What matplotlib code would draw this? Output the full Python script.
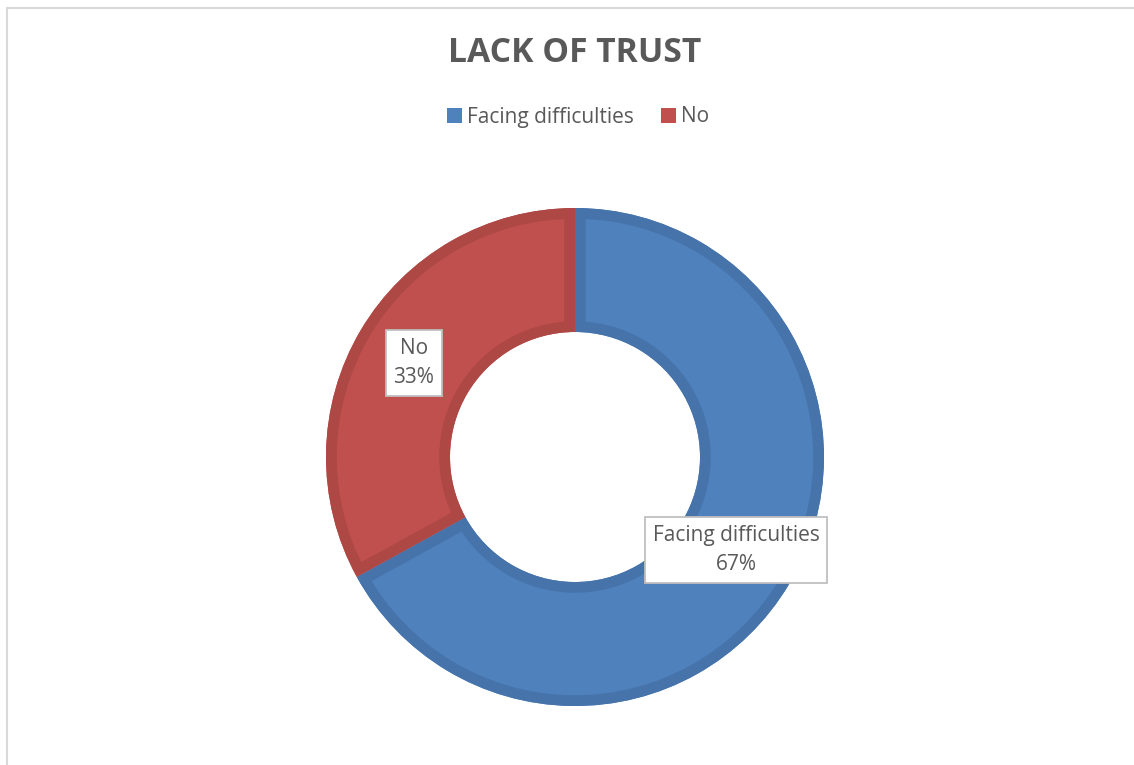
import matplotlib.pyplot as plt
from matplotlib.lines import Line2D
from matplotlib.patches import Patch, Wedge

plt.rcParams['font.family'] = ['Open Sans', 'DejaVu Sans']

categories = ['Facing difficulties', 'No']
values = [67, 33]
fill_colors = ['#4F81BD', '#C0504D']
edge_colors = ['#4673AA', '#AD4845']
title = 'LACK OF TRUST'

W, H = 1134, 765
fig = plt.figure(figsize=(W / 100, H / 100), dpi=100)
ax = fig.add_axes([0, 0, 1, 1])

# donut in pixel units, y measured from the bottom
cx, cy = 575, H - 457
r_out = 249
ring = 124

wedges, _ = ax.pie(values, colors=fill_colors, startangle=90, counterclock=False,
                   center=(cx, cy), radius=r_out,
                   wedgeprops=dict(width=ring, linewidth=0))
for w, ec in zip(wedges, edge_colors):
    # thick outline clipped to the wedge -> inner bevel band
    band = Wedge(w.center, w.r, w.theta1, w.theta2, width=w.width,
                 facecolor='none', edgecolor=ec, linewidth=15.5)
    ax.add_patch(band)
    band.set_clip_path(w.get_path(), w.get_transform())

ax.set_xlim(0, W)
ax.set_ylim(0, H)
ax.set_aspect('equal')
ax.axis('off')

# data labels
label_pos = [(736, H - 550), (414, H - 363)]
for cat, v, (lx, ly) in zip(categories, values, label_pos):
    ax.text(lx, ly, f'{cat}\n{v}%', ha='center', va='center', fontsize=15,
            color='#595959', linespacing=1.5,
            bbox=dict(boxstyle='square,pad=0.38', fc='white', ec='#BFBFBF', lw=1.3))

fig.text(575 / W, 1 - 53 / H, title, ha='center', va='center',
         fontsize=24.2, fontweight='bold', color='#595959')

handles = [Patch(facecolor=c, edgecolor='none') for c in fill_colors]
fig.legend(handles, categories, loc='center', bbox_to_anchor=(578 / W, 1 - 117 / H),
           ncol=2, frameon=False, fontsize=15, labelcolor='#595959',
           handlelength=0.7, handleheight=0.7, handletextpad=0.25, columnspacing=1.3)

# chart area border (top and left edges visible)
fig.add_artist(Line2D([7 / W, 7 / W], [0, 1 - 8 / H], transform=fig.transFigure,
                      color='#D9D9D9', lw=1.5))
fig.add_artist(Line2D([7 / W, 1], [1 - 8 / H, 1 - 8 / H], transform=fig.transFigure,
                      color='#D9D9D9', lw=1.5))

fig.savefig('out.png', dpi=100)
